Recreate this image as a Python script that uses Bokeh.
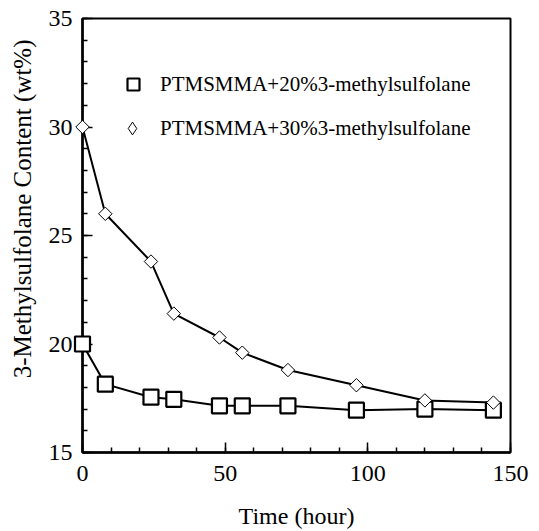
import math
from bokeh.plotting import figure
from bokeh.models import Range1d, FixedTicker, Legend, LegendItem, Title
from bokeh.embed import file_html
from bokeh.resources import INLINE

time_h = [0, 8, 24, 32, 48, 56, 72, 96, 120, 144]
content_20 = [20.0, 18.15, 17.55, 17.45, 17.15, 17.15, 17.15, 16.95, 17.0, 16.95]
content_30 = [30.0, 26.0, 23.8, 21.4, 20.3, 19.6, 18.8, 18.1, 17.4, 17.3]
label_20 = "PTMSMMA+20%3-methylsulfolane"
label_30 = "PTMSMMA+30%3-methylsulfolane"
x_title = "Time (hour)"
y_title = "3-Methylsulfolane Content (wt%)"
x_ticks = [0, 50, 100, 150]
y_ticks = [15, 20, 25, 30, 35]

FONT = "Liberation Serif"

p = figure(width=539, height=531, output_backend="svg", toolbar_location=None,
           x_range=Range1d(0, 150), y_range=Range1d(15, 35),
           min_border_left=82, min_border_right=29, min_border_top=18, min_border_bottom=79)
p.grid.visible = False
p.background_fill_color = "white"
p.outline_line_color = "black"
p.outline_line_width = 2
p.outline_line_alpha = 1

# series 20%
p.line(time_h, content_20, line_color="black", line_width=2)
sq = p.scatter(time_h, content_20, marker="square", size=15, fill_color="white",
               line_color="black", line_width=2.2, level="overlay")
# series 30%
p.line(time_h, content_30, line_color="black", line_width=2)
# small diamond glyph (hidden under the markers) used for the legend symbol
dm_leg = p.scatter(time_h, content_30, marker="diamond", size=7, fill_color="white",
                   line_color="black", line_width=1)
dm = p.scatter(time_h, content_30, marker="square", angle=math.pi / 4, size=9.5,
               fill_color="white", line_color="black", line_width=1, level="overlay")

for ax in (p.xaxis[0], p.yaxis[0]):
    ax.axis_line_width = 2.5
    ax.axis_line_color = "black"
    ax.major_tick_out = 0
    ax.minor_tick_out = 0
    ax.major_tick_in = 10
    ax.minor_tick_in = 5
    ax.major_tick_line_width = 1.5
    ax.minor_tick_line_width = 1.5
    ax.major_label_text_font = FONT
    ax.major_label_text_font_size = "24px"
    ax.major_label_text_color = "black"
    ax.axis_label_text_font = FONT
    ax.axis_label_text_font_style = "normal"
    ax.axis_label_text_color = "black"

p.xaxis[0].ticker = FixedTicker(ticks=x_ticks, minor_ticks=list(range(0, 151, 10)))
p.yaxis[0].ticker = FixedTicker(ticks=y_ticks, minor_ticks=list(range(15, 36, 1)))
p.xaxis[0].major_label_standoff = 13
p.yaxis[0].major_label_standoff = 10
p.xaxis[0].axis_label = x_title
p.xaxis[0].axis_label_text_font_size = "24px"
p.xaxis[0].axis_label_standoff = 19

p.add_layout(Title(text=y_title, align="right", offset=21, vertical_align="top",
                   standoff=15, text_font=FONT, text_font_size="25px",
                   text_font_style="normal", text_color="black"), "left")

leg1 = Legend(items=[LegendItem(label=label_20, renderers=[sq])],
              location=(36, 353), glyph_width=30, glyph_height=30, label_standoff=12,
              padding=0, margin=0, border_line_color=None, background_fill_alpha=0,
              label_text_font=FONT, label_text_font_size="21px", label_text_color="black")
leg2 = Legend(items=[LegendItem(label=label_30, renderers=[dm_leg])],
              location=(34, 308), glyph_width=32, glyph_height=32, label_standoff=12,
              padding=0, margin=0, border_line_color=None, background_fill_alpha=0,
              label_text_font=FONT, label_text_font_size="21px", label_text_color="black")
p.add_layout(leg1)
p.add_layout(leg2)

open("out.html", "w").write(file_html(p, INLINE))
